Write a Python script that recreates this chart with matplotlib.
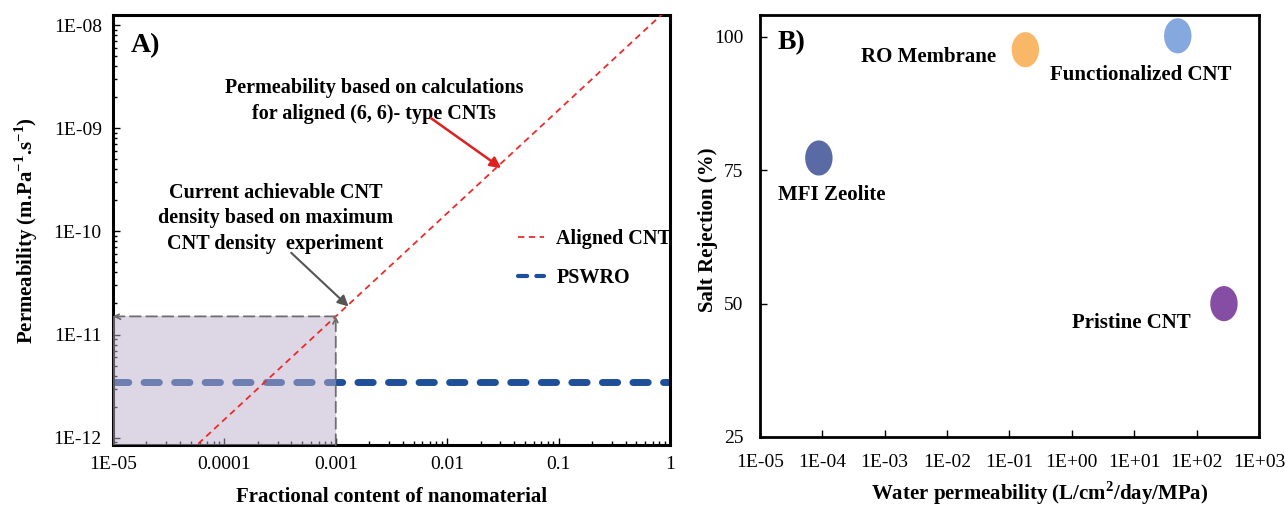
#!/usr/bin/env python3

import numpy as np
import matplotlib
matplotlib.use("Agg")
import matplotlib.pyplot as plot
from matplotlib.path import Path
from matplotlib.ticker import FixedLocator, FixedFormatter, LogLocator, NullLocator

# data #########################################################################

fraction = [1e-5, 1.0]
alignedCnt = [1.5e-13, 1.5e-8]
pswro = [3.5e-12, 3.5e-12]
maxDensityFraction = 1e-3
maxDensityPermeability = 1.5e-11

fractionTicks = [1e-5, 1e-4, 1e-3, 1e-2, 1e-1, 1]
fractionTickLabels = ["1E-05", "0.0001", "0.001", "0.01", "0.1", "1"]
permeabilityTicks = [1e-12, 1e-11, 1e-10, 1e-9, 1e-8]
permeabilityTickLabels = ["1E-12", "1E-11", "1E-10", "1E-09", "1E-08"]

materials = ["MFI Zeolite", "RO Membrane", "Functionalized CNT", "Pristine CNT"]
waterPermeability = [8.8e-5, 0.18, 50, 275]
saltRejection = [77.3, 97.6, 100.2, 50]
materialColors = ["#4b5d9e", "#f8b25a", "#7ba1dc", "#7c3e9c"]
labelOffsets = [(9, -27), (-70, -5), (-27, -28), (-67, -14)]

waterTicks = [1e-5, 1e-4, 1e-3, 1e-2, 1e-1, 1e0, 1e1, 1e2, 1e3]
waterTickLabels = ["1E-05", "1E-04", "1E-03", "1E-02", "1E-01", "1E+00",
                   "1E+01", "1E+02", "1E+03"]
rejectionTicks = [25, 50, 75, 100]

################################################################################

plot.rcParams["font.family"] = ["Liberation Serif", "DejaVu Serif"]
plot.rcParams["mathtext.fontset"] = "custom"
plot.rcParams["mathtext.rm"] = "Liberation Serif:bold"
plot.rcParams["mathtext.bf"] = "Liberation Serif:bold"

# plotPanelA ###################################################################

def plotPanelA(ax):
  yLow, yHigh = 8.5e-13, 1.25e-8

  ax.plot(fraction, pswro, color = "#1f4f98", linewidth = 5,
          dashes = (2.2, 2.2), dash_capstyle = "round", zorder = 2,
          label = "PSWRO")
  ax.fill_between([fraction[0], maxDensityFraction], yLow,
                  maxDensityPermeability, color = "#bcaecb", alpha = 0.5,
                  linewidth = 0, zorder = 3)
  ax.plot(fraction, alignedCnt, color = "#ee2a2a", linewidth = 1.3,
          dashes = (3.5, 2.5), zorder = 4, label = "Aligned CNT")

  # dashed guides with open heads
  ax.annotate("", xy = (fraction[0], maxDensityPermeability),
              xytext = (maxDensityFraction, maxDensityPermeability),
              arrowprops = dict(arrowstyle = "->", color = "#6e6e6e",
                                linestyle = (0, (6, 3)), linewidth = 1.3,
                                shrinkA = 0, shrinkB = 0),
              zorder = 5)
  ax.annotate("", xy = (maxDensityFraction, maxDensityPermeability),
              xytext = (maxDensityFraction, yLow),
              arrowprops = dict(arrowstyle = "->", color = "#6e6e6e",
                                linestyle = (0, (6, 3)), linewidth = 1.3,
                                shrinkA = 0, shrinkB = 0),
              zorder = 5)

  ax.set_xscale("log")
  ax.set_yscale("log")
  ax.set_xlim(fraction[0], fraction[1])
  ax.set_ylim(yLow, yHigh)
  ax.xaxis.set_major_locator(FixedLocator(fractionTicks))
  ax.xaxis.set_major_formatter(FixedFormatter(fractionTickLabels))
  ax.yaxis.set_major_locator(FixedLocator(permeabilityTicks))
  ax.yaxis.set_major_formatter(FixedFormatter(permeabilityTickLabels))
  ax.xaxis.set_minor_locator(LogLocator(base = 10, subs = np.arange(2, 10)))
  ax.yaxis.set_minor_locator(LogLocator(base = 10, subs = np.arange(2, 10)))
  ax.tick_params(which = "both", direction = "in", labelsize = 14,
                 width = 1, pad = 8)
  ax.tick_params(which = "major", length = 5)
  ax.tick_params(which = "minor", length = 3)
  for spine in ax.spines.values():
    spine.set_linewidth(2.2)

  ax.set_xlabel("Fractional content of nanomaterial", fontsize = 15,
                fontweight = "bold", labelpad = 10)
  ax.set_ylabel("Permeability (m.Pa$^{-1}$.s$^{-1}$)", fontsize = 15,
                fontweight = "bold", labelpad = 10)

  ax.text(0.032, 0.958, "A)", transform = ax.transAxes, fontsize = 20,
          fontweight = "bold", ha = "left", va = "top")

  ax.text(0.469, 0.80,
          "Permeability based on calculations\nfor aligned (6, 6)- type CNTs",
          transform = ax.transAxes, fontsize = 14.5, fontweight = "bold",
          ha = "center", va = "center", linespacing = 1.35)
  ax.annotate("", xy = (0.697, 0.644), xytext = (0.571, 0.760),
              xycoords = "axes fraction", textcoords = "axes fraction",
              arrowprops = dict(arrowstyle = "-|>", color = "#e02020",
                                linewidth = 1.8, mutation_scale = 16,
                                shrinkA = 0, shrinkB = 0))

  ax.text(0.292, 0.527,
          "Current achievable CNT\ndensity based on maximum\nCNT density  experiment",
          transform = ax.transAxes, fontsize = 14.5, fontweight = "bold",
          ha = "center", va = "center", linespacing = 1.35)
  ax.annotate("", xy = (0.423, 0.322), xytext = (0.320, 0.447),
              xycoords = "axes fraction", textcoords = "axes fraction",
              arrowprops = dict(arrowstyle = "-|>", color = "#555555",
                                linewidth = 1.5, mutation_scale = 16,
                                shrinkA = 0, shrinkB = 0))

  legend = ax.legend(handles = ax.get_lines()[::-1], loc = "upper left",
                     bbox_to_anchor = (0.727, 0.502), frameon = False,
                     handlelength = 1.3, handletextpad = 0.6,
                     labelspacing = 0.95, borderaxespad = 0, borderpad = 0,
                     prop = {"weight": "bold", "size": 14.5})
  legend.get_lines()[1].set_linewidth(3)

################################################################################


# plotPanelB ###################################################################

def plotPanelB(ax):
  theta = np.linspace(0, 2 * np.pi, 60)
  ellipse = Path(np.column_stack([0.78 * np.cos(theta), np.sin(theta)]))

  ax.scatter(waterPermeability, saltRejection, s = 640, marker = ellipse,
             c = materialColors, linewidths = 0, alpha = 0.92, zorder = 3)
  for name, x, y, offset in zip(materials, waterPermeability, saltRejection,
                                labelOffsets):
    ax.annotate(name, xy = (x, y), xytext = offset,
                textcoords = "offset points", fontsize = 15,
                fontweight = "bold", ha = "center", va = "center")

  ax.text(0.035, 0.965, "B)", transform = ax.transAxes, fontsize = 20,
          fontweight = "bold", ha = "left", va = "top")

  ax.set_xscale("log")
  ax.set_xlim(waterTicks[0], waterTicks[-1])
  ax.set_ylim(25, 104.1)
  ax.xaxis.set_major_locator(FixedLocator(waterTicks))
  ax.xaxis.set_major_formatter(FixedFormatter(waterTickLabels))
  ax.xaxis.set_minor_locator(NullLocator())
  ax.set_yticks(rejectionTicks)
  ax.tick_params(which = "both", direction = "in", labelsize = 14,
                 length = 5, width = 1, pad = 12)
  for spine in ax.spines.values():
    spine.set_linewidth(2)

  ax.set_xlabel("Water permeability (L/cm$^2$/day/MPa)", fontsize = 15,
                fontweight = "bold")
  ax.xaxis.set_label_coords(0.56, -0.1)
  ax.set_ylabel("Salt Rejection (%)", fontsize = 15, fontweight = "bold")
  ax.yaxis.set_label_coords(-0.084, 0.49)

################################################################################

# main #########################################################################

def main():
  figure = plot.figure(figsize = (12.85, 5.09), dpi = 100)
  axA = figure.add_axes([0.0879, 0.1257, 0.4335, 0.8448])
  axB = figure.add_axes([0.5914, 0.1415, 0.3883, 0.829])
  plotPanelA(axA)
  plotPanelB(axB)
  figure.savefig("out.png", dpi = 100)
  plot.close()

################################################################################

if __name__ == "__main__":
  main()
